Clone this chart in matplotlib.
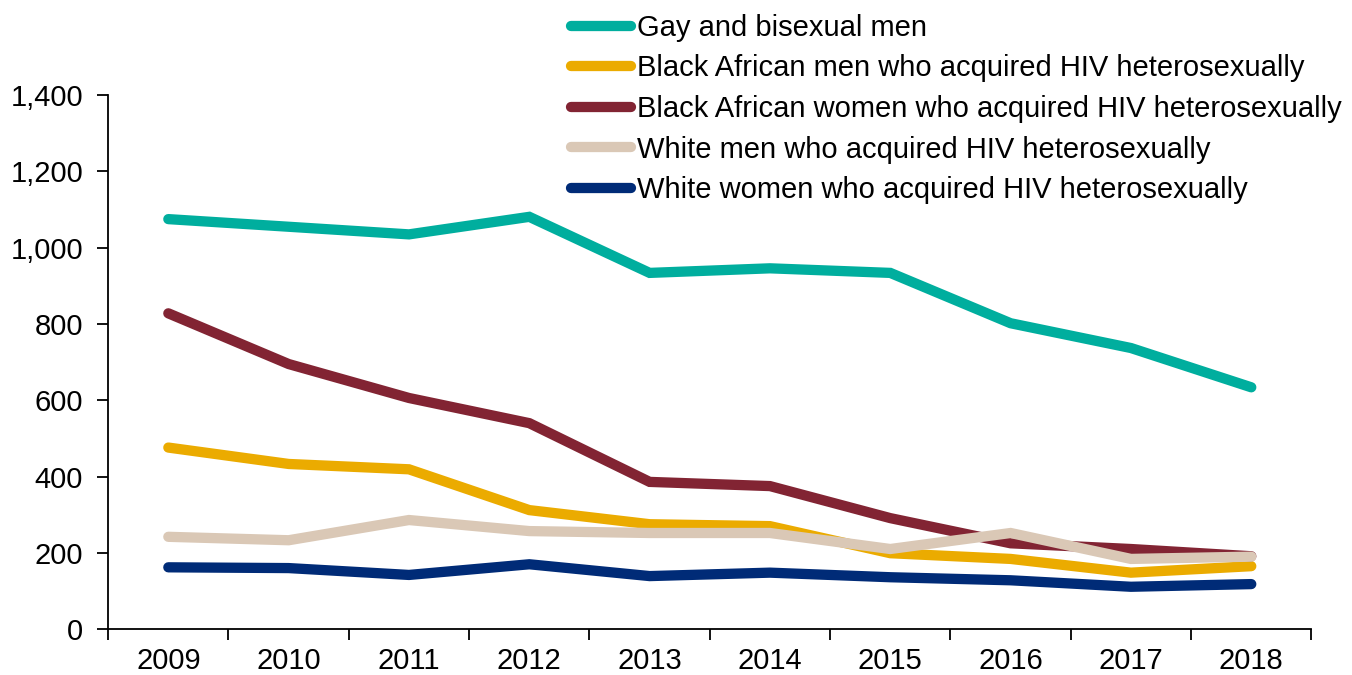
import matplotlib.pyplot as plt
from matplotlib.ticker import FuncFormatter, FixedLocator

# Valores
anos = ['2009', '2010', '2011', '2012', '2013', '2014', '2015', '2016', '2017', '2018']
gay_bi = [1075, 1055, 1035, 1081, 934, 946, 934, 802, 737, 634]
ba_homens = [476, 433, 419, 312, 275, 270, 199, 184, 148, 165]
ba_mulheres = [828, 695, 606, 540, 386, 375, 291, 225, 210, 191]
brancos_homens = [242, 233, 286, 257, 252, 252, 210, 252, 184, 190]
brancas_mulheres = [162, 160, 142, 170, 139, 148, 136, 128, 111, 118]

rotulos = ['Gay and bisexual men',
           'Black African men who acquired HIV heterosexually',
           'Black African women who acquired HIV heterosexually',
           'White men who acquired HIV heterosexually',
           'White women who acquired HIV heterosexually']
cores = ['#00AE9E', '#EBAB00', '#822433', '#DAC8B6', '#002B77']
series = [gay_bi, ba_homens, ba_mulheres, brancos_homens, brancas_mulheres]

plt.rcParams['font.family'] = ['Liberation Sans', 'DejaVu Sans']

fig = plt.figure(figsize=(13.52, 6.75), dpi=100)
ax = fig.add_axes([0.08, 0.068, 0.89, 0.791])

x = range(len(anos))
for valores, cor, rot in zip(series, cores, rotulos):
    ax.plot(x, valores, color=cor, linewidth=7.4, solid_capstyle='round',
            solid_joinstyle='miter', label=rot)

ax.set_xlim(-0.5, len(anos) - 0.5)
ax.set_ylim(0, 1400)
ax.set_yticks(range(0, 1401, 200))
ax.yaxis.set_major_formatter(FuncFormatter(lambda v, p: f'{int(v):,}'))

ax.set_xticks(list(x))
ax.set_xticklabels(anos)
ax.xaxis.set_minor_locator(FixedLocator([i - 0.5 for i in range(len(anos) + 1)]))
ax.tick_params(axis='x', which='major', length=0, pad=13, labelsize=21)
ax.tick_params(axis='x', which='minor', length=8, width=1.3, direction='out')
ax.tick_params(axis='y', length=8, width=1.3, direction='out', pad=10, labelsize=21)

for lado in ['top', 'right']:
    ax.spines[lado].set_visible(False)
for lado in ['left', 'bottom']:
    ax.spines[lado].set_linewidth(1.3)

leg = fig.legend(loc='upper left', bbox_to_anchor=(0.418, 0.988), frameon=False,
                 prop={'family': ['Liberation Sans Narrow', 'Liberation Sans'], 'size': 21},
                 handlelength=2.05, handletextpad=0.2, labelspacing=0.43,
                 borderaxespad=0, borderpad=0.2)
for linha in leg.get_lines():
    linha.set_linewidth(7.4)

plt.savefig('out.png', dpi=100)
